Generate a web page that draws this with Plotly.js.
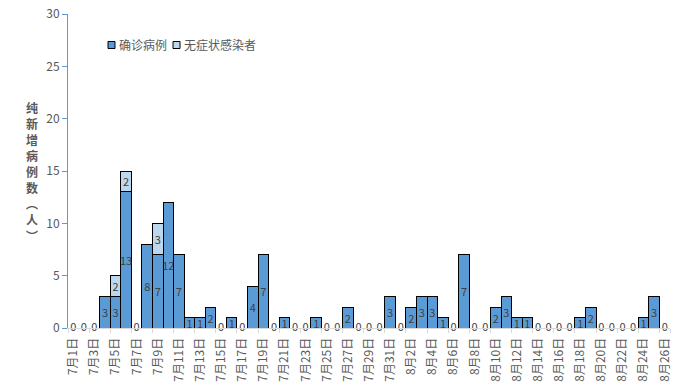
<!DOCTYPE html>
<html>
<head>
<meta charset="utf-8">
<script src="https://cdn.plot.ly/plotly-3.0.1.min.js"></script>
<style>html,body{margin:0;padding:0;background:#fff;}#chart{width:685px;height:390px;}</style>
</head>
<body>
<div id="chart"></div>
<script>
// Dates 7月1日 .. 8月26日
const dates = [
  "7月1日","7月2日","7月3日","7月4日","7月5日","7月6日","7月7日","7月8日","7月9日","7月10日",
  "7月11日","7月12日","7月13日","7月14日","7月15日","7月16日","7月17日","7月18日","7月19日","7月20日",
  "7月21日","7月22日","7月23日","7月24日","7月25日","7月26日","7月27日","7月28日","7月29日","7月30日",
  "7月31日","8月1日","8月2日","8月3日","8月4日","8月5日","8月6日","8月7日","8月8日","8月9日",
  "8月10日","8月11日","8月12日","8月13日","8月14日","8月15日","8月16日","8月17日","8月18日","8月19日",
  "8月20日","8月21日","8月22日","8月23日","8月24日","8月25日","8月26日"
];
const confirmed = [
  0,0,0,3,3,13,0,8,7,12,
  7,1,1,2,0,1,0,4,7,0,
  1,0,0,1,0,0,2,0,0,0,
  3,0,2,3,3,1,0,7,0,0,
  2,3,1,1,0,0,0,0,1,2,
  0,0,0,0,1,3,0
];
const asymptomatic = [
  0,0,0,0,2,2,0,0,3,0,
  0,0,0,0,0,0,0,0,0,0,
  0,0,0,0,0,0,0,0,0,0,
  0,0,0,0,0,0,0,0,0,0,
  0,0,0,0,0,0,0,0,0,0,
  0,0,0,0,0,0,0
];
const tickLabels = dates.filter((d, i) => i % 2 === 0);
const seriesNames = ["确诊病例", "无症状感染者"];
const seriesColors = ["#5b9bd5", "#bdd7ee"];
const yTitle = "纯新增病例数︵人︶";

const font = "'Noto Sans CJK SC', 'Microsoft YaHei', sans-serif";
const labelColor = "#404040";

const W = 685, H = 390;
const M = {l: 68, r: 15, t: 14, b: 62};
const PW = W - M.l - M.r, PH = H - M.t - M.b;
const px = x => (x - M.l) / PW;
const py = y => 1 - (y - M.t) / PH;

const zeroDates = dates.filter((d, i) => confirmed[i] === 0);
const zeroVals = confirmed.filter(v => v === 0);

const traces = [
  {
    type: "bar", name: seriesNames[0], x: dates, y: confirmed,
    text: confirmed.map(v => v === 0 ? "" : String(v)),
    textposition: "inside", insidetextanchor: "middle", constraintext: "none",
    textangle: 0,
    textfont: {family: font, size: 11, color: labelColor},
    marker: {color: seriesColors[0], line: {color: "#000", width: 1}},
    showlegend: false
  },
  {
    type: "bar", name: seriesNames[1], x: dates, y: asymptomatic,
    text: asymptomatic.map(v => v === 0 ? "" : String(v)),
    textposition: "inside", insidetextanchor: "middle", constraintext: "none",
    textangle: 0,
    textfont: {family: font, size: 11, color: labelColor},
    marker: {color: seriesColors[1], line: {color: "#000", width: 1}},
    showlegend: false
  },
  {
    type: "scatter", mode: "text", x: zeroDates, y: zeroVals,
    text: zeroVals.map(String), textposition: "middle center",
    textfont: {family: font, size: 11, color: labelColor},
    showlegend: false, hoverinfo: "skip", cliponaxis: false
  }
];

// custom legend (small squares close to text, like the reference)
const legendItems = [
  {sx: 108, tx: 117},
  {sx: 173, tx: 182}
];
const shapes = [], annotations = [];
legendItems.forEach((it, i) => {
  shapes.push({
    type: "rect", xref: "paper", yref: "paper",
    x0: px(it.sx), x1: px(it.sx + 7), y0: py(48.5), y1: py(41.5),
    fillcolor: seriesColors[i], line: {color: "#000", width: 1}
  });
  annotations.push({
    xref: "paper", yref: "paper", x: px(it.tx), y: py(45),
    xanchor: "left", yanchor: "middle", showarrow: false,
    text: seriesNames[i], font: {family: font, size: 12, color: "#595959"}
  });
});

// vertical y-axis title, one character per line
const chars = yTitle.split("");
const step = 16;
chars.forEach((c, i) => {
  annotations.push({
    xref: "paper", yref: "paper", x: px(32), y: 0.5,
    yshift: -(i - (chars.length - 1) / 2) * step,
    xanchor: "center", yanchor: "middle", showarrow: false,
    text: "<b>" + c + "</b>",
    font: {family: font, size: 12, color: "#595959"}
  });
});

const layout = {
  width: W, height: H,
  margin: M,
  paper_bgcolor: "#fff", plot_bgcolor: "#fff",
  barmode: "stack", bargap: 0,
  font: {family: font, color: "#595959", size: 12},
  showlegend: false,
  xaxis: {
    type: "category", categoryorder: "array", categoryarray: dates,
    range: [-0.5, dates.length - 0.5], autorange: false,
    tickmode: "array", tickvals: tickLabels, ticktext: tickLabels,
    tickson: "boundaries", ticklabelstandoff: 4,
    tickangle: -90, tickfont: {family: font, size: 12, color: "#595959"},
    ticks: "outside", ticklen: 4, tickcolor: "#d9d9d9",
    showline: true, linecolor: "#d9d9d9", linewidth: 1,
    showgrid: false, zeroline: false, fixedrange: true
  },
  yaxis: {
    range: [0, 30], tickvals: [0, 5, 10, 15, 20, 25, 30],
    ticks: "outside", ticklen: 5, tickcolor: "#5b9bd5",
    showline: true, linecolor: "#5b9bd5", linewidth: 1,
    showgrid: false, zeroline: false,
    tickfont: {family: font, size: 12, color: "#595959"}, fixedrange: true
  },
  shapes: shapes,
  annotations: annotations
};

Plotly.newPlot("chart", traces, layout, {displayModeBar: false, staticPlot: true});
</script>
</body>
</html>
